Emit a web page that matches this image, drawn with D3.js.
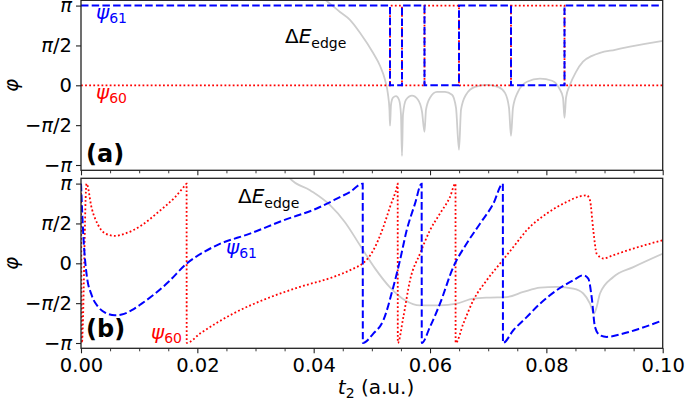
<!DOCTYPE html>
<html><head><meta charset="utf-8">
<script src="https://cdn.jsdelivr.net/npm/d3@7"></script>
<style>body{margin:0;background:#fff}svg{display:block;font-family:"DejaVu Sans",sans-serif}</style>
</head><body><svg id="c" width="685" height="400"></svg>
<script>
const PI = Math.PI;
// ticks
const yTickValues = [-PI, -PI/2, 0, PI/2, PI];
const yTickLabels = ["−π", "−π/2", "0", "π/2", "π"];
const xTickValues = [0, 0.02, 0.04, 0.06, 0.08, 0.10];
const xTickLabels = ["0.00", "0.02", "0.04", "0.06", "0.08", "0.10"];
const xMinorTicks = [0.005,0.01,0.015,0.025,0.03,0.035,0.045,0.05,0.055,0.065,0.07,0.075,0.085,0.09,0.095];

// panel (a): step phases
const aSwitchT = [0.05312, 0.05518, 0.05905, 0.06498, 0.07392, 0.08312];
const aPsi61States = [PI, 0, PI, 0, PI, 0, PI];
const aPsi60States = [0, PI, 0, PI, 0, PI, 0];
const aEdge = [[0.04074,3.56],[0.04195,3.37],[0.04452,2.89],[0.04624,2.58],[0.04796,2.07],[0.05020,1.28],[0.05140,0.77],[0.05226,0.22],[0.05278,-0.37],[0.05303,-0.96],[0.05312,-1.59],
[0.05329,-0.77],[0.05364,-0.49],[0.05415,-0.43],[0.05467,-0.57],[0.05501,-1.16],[0.05518,-2.78],
[0.05535,-1.16],[0.05587,-0.57],[0.05690,-0.41],[0.05793,-0.57],[0.05862,-1.04],[0.05905,-1.83],
[0.05931,-0.96],[0.06000,-0.49],[0.06120,-0.26],[0.06257,-0.26],[0.06378,-0.37],[0.06447,-0.89],[0.06498,-2.54],
[0.06533,-0.96],[0.06619,-0.37],[0.06773,-0.06],[0.06980,0.02],[0.07169,-0.06],[0.07289,-0.30],[0.07358,-0.89],[0.07392,-1.99],
[0.07426,-0.89],[0.07512,-0.26],[0.07667,0.14],[0.07891,0.26],[0.08097,0.18],[0.08217,-0.10],[0.08286,-0.49],[0.08312,-1.28],
[0.08338,-0.49],[0.08406,0.02],[0.08510,0.53],[0.08630,0.93],[0.08785,1.16],[0.08922,1.28],[0.09180,1.40],[0.09438,1.52],[0.09696,1.63],[0.10000,1.75]];

// panel (b)
const bPsi61 = [[0,3.14],[0.00040,1.10],[0.00098,-0.47],[0.00184,-1.26],[0.00297,-1.72],[0.00413,-1.94],[0.00584,-2.05],[0.00700,-2.02],[0.00872,-1.85],[0.01043,-1.59],[0.01272,-1.20],[0.01501,-0.74],[0.01817,-0.01],[0.02132,0.47],[0.02333,0.71],[0.02905,1.17],[0.03478,1.69],[0.04052,2.16],[0.04452,2.61],[0.04624,2.81],[0.04843,3.14],
[0.04845,-3.14],[0.05025,-2.77],[0.05197,-2.25],[0.05369,-0.93],[0.05484,0.12],[0.05599,1.30],[0.05742,2.35],[0.05856,3.14],
[0.05858,-3.14],[0.05999,-2.51],[0.06171,-1.59],[0.06400,-0.15],[0.06630,0.78],[0.06859,1.56],[0.07088,2.35],[0.07252,3.14],
[0.07254,-3.14],[0.07432,-2.64],[0.07662,-2.12],[0.07891,-1.59],[0.08178,-1.06],[0.08463,-0.67],[0.08635,-0.47],[0.08721,-0.60],[0.08779,-1.33],[0.08836,-2.51],[0.08922,-2.84],[0.09037,-2.90],[0.09323,-2.77],[0.09610,-2.57],[0.10000,-2.25]];
const bPsi60 = [[0,3.10],[0.00015,-3.14],[0.00095,3.14],[0.00184,2.17],[0.00297,1.50],[0.00413,1.18],[0.00584,1.08],[0.00756,1.17],[0.01043,1.50],[0.01329,2.02],[0.01616,2.61],[0.01800,3.10],[0.01815,3.14],
[0.01817,-3.14],[0.02046,-2.77],[0.02618,-1.98],[0.03192,-1.39],[0.03765,-0.93],[0.04337,-0.54],[0.04681,-0.21],[0.04853,0.01],[0.05025,0.51],[0.05197,1.43],[0.05312,2.22],[0.05437,3.07],[0.05444,3.14],
[0.05446,-3.14],[0.05541,-2.12],[0.05656,-0.67],[0.05828,0.38],[0.05999,1.30],[0.06171,1.96],[0.06343,2.61],[0.06438,3.14],
[0.06440,-3.14],[0.06572,-2.38],[0.06744,-1.46],[0.06974,-0.67],[0.07203,-0.01],[0.07432,0.64],[0.07662,1.30],[0.08006,1.96],[0.08350,2.42],[0.08578,2.64],[0.08693,2.68],[0.08750,2.48],[0.08807,1.30],[0.08865,0.38],[0.08979,0.19],[0.09151,0.32],[0.09495,0.58],[0.10000,0.91]];
const bEdge = [[0.03507,3.67],[0.03593,3.35],[0.03937,2.88],[0.04281,2.29],[0.04538,1.62],[0.04796,0.71],[0.05054,-0.20],[0.05312,-0.95],[0.05570,-1.46],[0.05828,-1.66],[0.06172,-1.66],[0.06459,-1.59],[0.06744,-1.39],[0.07031,-1.35],[0.07318,-1.33],[0.07604,-1.13],[0.07891,-0.96],[0.08178,-0.93],[0.08463,-1.00],[0.08635,-1.19],[0.08750,-1.59],[0.08819,-1.98],[0.08865,-1.72],[0.08922,-1.19],[0.09151,-0.54],[0.09495,-0.15],[0.10000,0.38]];

const svg = d3.select("#c");
const x = d3.scaleLinear().domain([0, 0.1]).range([81, 662.7]);
const yDom = [-3.35, 3.35];
const panels = [
  {id:"a", top:0.3, bottom:170.3},
  {id:"b", top:178.3, bottom:348.3}
];
panels.forEach(p => { p.y = d3.scaleLinear().domain(yDom).range([p.bottom, p.top]); });

const BLUE = "#0000ff", RED = "#ff0000", GRAY = "#cdcdcd";

function stepData(states) {
  const ts = [0, ...aSwitchT, 0.1];
  return ts.map((t, i) => [t, states[Math.min(i, states.length - 1)]]);
}

function mathText(g, px, py, parts, size, fill, weight) {
  const t = g.append("text").attr("x", px).attr("y", py)
    .attr("font-size", size).attr("fill", fill || "#000");
  if (weight) t.attr("font-weight", weight);
  let shift = 0;
  parts.forEach(pt => {
    const s = t.append("tspan").text(pt.t);
    if (pt.it) s.attr("font-style", "italic");
    const target = pt.sub ? 0.22 * size : 0;
    if (target !== shift) { s.attr("dy", target - shift); shift = target; }
    if (pt.sub) s.attr("font-size", size * 0.7);
  });
  return t;
}

panels.forEach(p => {
  const g = svg.append("g");
  const clipId = "clip" + p.id;
  svg.append("clipPath").attr("id", clipId).append("rect")
    .attr("x", x(0)).attr("y", p.top).attr("width", x(0.1) - x(0)).attr("height", p.bottom - p.top);
  const lines = g.append("g").attr("clip-path", `url(#${clipId})`);
  const smooth = d3.line().x(d => x(d[0])).y(d => p.y(d[1])).curve(d3.curveMonotoneX);
  const step = d3.line().x(d => x(d[0])).y(d => p.y(d[1])).curve(d3.curveStepAfter);

  if (p.id === "a") {
    lines.append("path").attr("d", smooth(aEdge)).attr("fill","none").attr("stroke",GRAY).attr("stroke-width",1.8);
    lines.append("path").attr("d", step(stepData(aPsi60States))).attr("fill","none").attr("stroke",RED).attr("stroke-width",1.8).attr("stroke-dasharray","1.8,2.3");
    lines.append("path").attr("d", step(stepData(aPsi61States))).attr("fill","none").attr("stroke",BLUE).attr("stroke-width",2).attr("stroke-dasharray","7.5,3.2");
  } else {
    lines.append("path").attr("d", smooth(bEdge)).attr("fill","none").attr("stroke",GRAY).attr("stroke-width",1.8);
    lines.append("path").attr("d", smooth(bPsi60)).attr("fill","none").attr("stroke",RED).attr("stroke-width",1.8).attr("stroke-dasharray","1.8,2.3");
    lines.append("path").attr("d", smooth(bPsi61)).attr("fill","none").attr("stroke",BLUE).attr("stroke-width",2).attr("stroke-dasharray","7.5,3.2");
  }

  // y axis
  const ya = g.append("g").attr("transform", `translate(${x(0)},0)`)
    .call(d3.axisLeft(p.y).tickValues(yTickValues).tickSize(5).tickPadding(4));
  ya.select(".domain").remove();
  ya.selectAll("line").attr("stroke","#222").attr("stroke-width",1.1);
  ya.selectAll("text").attr("font-size",19.5).attr("fill","#000").attr("font-family","DejaVu Sans")
    .each(function(d, i) {
      const s = d3.select(this); const lbl = yTickLabels[i];
      s.text(null);
      lbl.split(/(π)/).filter(q => q.length).forEach(q => {
        const ts = s.append("tspan").text(q);
        if (q === "π") ts.attr("font-style","italic");
      });
    });

  // x axis major + minor
  const xa = g.append("g").attr("transform", `translate(0,${p.bottom})`)
    .call(d3.axisBottom(x).tickValues(xTickValues).tickSize(5).tickPadding(4.5)
      .tickFormat((d, i) => p.id === "b" ? xTickLabels[i] : ""));
  xa.select(".domain").remove();
  xa.selectAll("line").attr("stroke","#222").attr("stroke-width",1.1);
  xa.selectAll("text").attr("font-size",19.5).attr("fill","#000").attr("font-family","DejaVu Sans");
  const xm = g.append("g").attr("transform", `translate(0,${p.bottom})`)
    .call(d3.axisBottom(x).tickValues(xMinorTicks).tickSize(3).tickFormat(""));
  xm.select(".domain").remove();
  xm.selectAll("line").attr("stroke","#222").attr("stroke-width",0.9);

  // frame
  g.append("rect").attr("x", x(0)).attr("y", p.top).attr("width", x(0.1) - x(0)).attr("height", p.bottom - p.top)
    .attr("fill","none").attr("stroke","#222").attr("stroke-width",1.3);

  // y label
  g.append("text").attr("transform", `translate(11,${(p.top + p.bottom) / 2}) rotate(-90)`)
    .attr("text-anchor","middle").attr("dominant-baseline","central")
    .attr("font-size",20).attr("font-style","italic").text("φ");
});

// annotations
const ga = svg.append("g");
mathText(ga, 96, 18.5, [{t:"ψ", it:true},{t:"61", sub:true}], 20, BLUE);
mathText(ga, 96, 98.5, [{t:"ψ", it:true},{t:"60", sub:true}], 20, RED);
mathText(ga, 285, 43.3, [{t:"Δ"},{t:"E", it:true},{t:"edge", sub:true}], 20, "#000");
mathText(ga, 86, 161.7, [{t:"(a)"}], 24, "#000", "bold");
mathText(ga, 238, 203.3, [{t:"Δ"},{t:"E", it:true},{t:"edge", sub:true}], 20, "#000");
mathText(ga, 226, 253.5, [{t:"ψ", it:true},{t:"61", sub:true}], 20, BLUE);
mathText(ga, 151, 338.5, [{t:"ψ", it:true},{t:"60", sub:true}], 20, RED);
mathText(ga, 86, 336.5, [{t:"(b)"}], 24, "#000", "bold");
mathText(ga, 376, 394, [{t:"t", it:true},{t:"2", sub:true},{t:" (a.u.)"}], 20, "#000").attr("text-anchor","middle");
</script></body></html>
